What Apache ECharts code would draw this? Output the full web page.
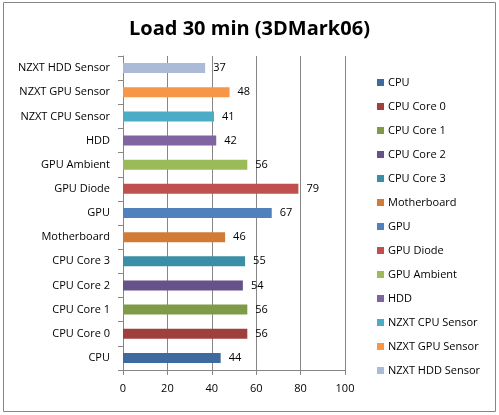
<!DOCTYPE html>
<html>
<head>
<meta charset="utf-8">
<script src="https://cdn.jsdelivr.net/npm/echarts@6/dist/echarts.min.js"></script>
<style>
  html, body { margin: 0; padding: 0; background: #fff; }
  #chart { width: 499px; height: 415px; }
</style>
</head>
<body>
<div id="chart"></div>
<script>
  // data
  const categories = ['CPU', 'CPU Core 0', 'CPU Core 1', 'CPU Core 2', 'CPU Core 3', 'Motherboard',
    'GPU', 'GPU Diode', 'GPU Ambient', 'HDD', 'NZXT CPU Sensor', 'NZXT GPU Sensor', 'NZXT HDD Sensor']
  const values = [44, 56, 56, 54, 55, 46, 67, 79, 56, 42, 41, 48, 37]
  const colors = ['#3f6aa0', '#9f403d', '#7f9b48', '#67518a', '#3a8ea6', '#d27b36',
    '#4f81bd', '#c0504d', '#9bbb59', '#8064a2', '#4bacc6', '#f79646', '#aabad7']
  const xTicks = [0, 20, 40, 60, 80, 100]

  const font = 'Open Sans, Noto Sans, sans-serif'
  const chart = echarts.init(document.getElementById('chart'))

  let series = []
  for (let i = 0; i < categories.length; i++) {
    let data = categories.map(() => '-')
    data[i] = values[i]
    series.push({
      name: categories[i],
      type: 'bar',
      stack: 'all',
      barWidth: 10,
      itemStyle: { color: colors[i] },
      label: {
        show: true,
        position: 'right',
        distance: 8,
        color: '#000',
        fontSize: 11,
        fontFamily: font
      },
      data: data
    })
  }

  chart.setOption({
    animation: false,
    title: {
      text: 'Load 30 min (3DMark06)',
      left: 'center',
      top: 14,
      textStyle: { fontSize: 20, fontWeight: 'bold', color: '#000', fontFamily: font }
    },
    graphic: [{
      type: 'rect',
      shape: { x: 3.5, y: 2.5, width: 492, height: 409 },
      style: { fill: 'none', stroke: '#868686', lineWidth: 1 },
      silent: true
    }],
    legend: {
      orient: 'vertical',
      left: 372,
      top: 72,
      icon: 'rect',
      itemWidth: 7,
      itemHeight: 7,
      itemGap: 13,
      textStyle: { fontSize: 11, color: '#000', fontFamily: font, padding: [0, 0, 0, -1] },
      data: categories
    },
    grid: {
      left: 123,
      right: 154,
      top: 56,
      bottom: 45
    },
    xAxis: {
      type: 'value',
      min: xTicks[0],
      max: xTicks[xTicks.length - 1],
      interval: 20,
      axisLine: { show: true, lineStyle: { color: '#868686' } },
      axisTick: { show: true, length: 5, lineStyle: { color: '#868686' } },
      axisLabel: { color: '#000', fontSize: 11, fontFamily: font, margin: 13 },
      splitLine: { show: true, lineStyle: { color: '#868686' } }
    },
    yAxis: {
      type: 'category',
      data: categories,
      axisLine: { show: true, lineStyle: { color: '#868686' } },
      axisTick: { show: true, length: 5, lineStyle: { color: '#868686' } },
      axisLabel: { color: '#000', fontSize: 11, fontFamily: font, margin: 13 },
      splitLine: { show: false }
    },
    series: series
  })
</script>
</body>
</html>
